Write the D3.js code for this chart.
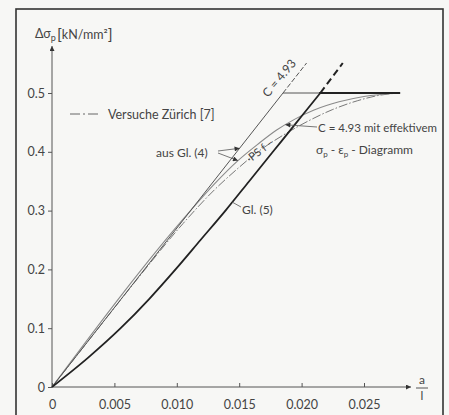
<!DOCTYPE html>
<html>
<head>
<meta charset="utf-8">
<script src="https://cdn.jsdelivr.net/npm/d3@7"></script>
<style>
  body { margin: 0; background: #f7f7f5; }
  svg text { font-family: Lato, "Open Sans", sans-serif; fill: #444; }
</style>
</head>
<body>
<div id="chart"></div>
<script>
  // tick values and labels
  var xTicks = [0, 0.005, 0.010, 0.015, 0.020, 0.025];
  var xTickLabels = ["0", "0.005", "0.010", "0.015", "0.020", "0.025"];
  var yTicks = [0, 0.1, 0.2, 0.3, 0.4, 0.5];
  var yTickLabels = ["0", "0.1", "0.2", "0.3", "0.4", "0.5"];

  // Gl. (5), thick curve, and its dashed continuation
  var gl5A = [0, 0.0029, 0.0055, 0.0078, 0.0099, 0.0119, 0.0139, 0.0158, 0.0177, 0.0196, 0.0215];
  var gl5S = [0, 0.05, 0.10, 0.15, 0.20, 0.25, 0.30, 0.35, 0.40, 0.45, 0.50];
  var gl5ExtA = [0.0215, 0.0233];
  var gl5ExtS = [0.50, 0.551];

  // C = 4.93, aus Gl. (4): straight line up to the plateau
  var c493A = [0, 0.01851];
  var c493S = [0, 0.50];
  var c493ExtA = [0.01851, 0.0204];
  var c493ExtS = [0.50, 0.551];

  // plateau at 0.5
  var plateauThinA = [0.01851, 0.0214];
  var plateauThickA = [0.0214, 0.0279];
  var plateauS = 0.5;

  // C = 4.93 mit effektivem sigma-eps diagram
  var effA = [0, 0.0111, 0.0130, 0.0149, 0.0165, 0.0180, 0.0195, 0.0210, 0.0230, 0.0250, 0.0278];
  var effS = [0, 0.300, 0.345, 0.385, 0.413, 0.437, 0.456, 0.471, 0.485, 0.494, 0.500];

  // Versuche Zuerich [7], dash-dot
  var testA = [0, 0.0036, 0.0070, 0.0105, 0.0130, 0.0148, 0.0165, 0.0185, 0.0205, 0.0225, 0.0245, 0.0262, 0.0278];
  var testS = [0, 0.097, 0.188, 0.278, 0.335, 0.370, 0.400, 0.428, 0.452, 0.472, 0.487, 0.496, 0.500];

  var width = 449, height = 415;

  var svg = d3.select("#chart").append("svg")
    .attr("width", width)
    .attr("height", height);

  var x = d3.scaleLinear().domain([0, 0.025]).range([52, 364]);
  var y = d3.scaleLinear().domain([0, 0.5]).range([387, 93]);

  function pts(a, s) {
    return a.map(function(d, i) { return [d, s[i]]; });
  }

  var line = d3.line()
    .x(function(d) { return x(d[0]); })
    .y(function(d) { return y(d[1]); });
  var curve = d3.line()
    .curve(d3.curveMonotoneX)
    .x(function(d) { return x(d[0]); })
    .y(function(d) { return y(d[1]); });

  // frame
  svg.append("rect")
    .attr("x", 16).attr("y", 9)
    .attr("width", 427).attr("height", 420)
    .attr("fill", "none")
    .attr("stroke", "#333")
    .attr("stroke-width", 1.6);

  // arrow marker
  svg.append("defs").append("marker")
    .attr("id", "arrow")
    .attr("viewBox", "0 0 10 10")
    .attr("refX", 10).attr("refY", 5)
    .attr("markerWidth", 10).attr("markerHeight", 5)
    .attr("markerUnits", "userSpaceOnUse")
    .attr("orient", "auto")
    .append("path")
    .attr("d", "M0,0L10,5L0,10Z")
    .attr("fill", "#333");

  // axes lines
  svg.append("line")
    .attr("x1", x(0)).attr("y1", y(0))
    .attr("x2", 411).attr("y2", y(0))
    .attr("stroke", "#555").attr("stroke-width", 1)
    .attr("marker-end", "url(#arrow)");
  svg.append("line")
    .attr("x1", x(0)).attr("y1", y(0))
    .attr("x2", x(0)).attr("y2", 46)
    .attr("stroke", "#555").attr("stroke-width", 1)
    .attr("marker-end", "url(#arrow)");

  var xAxis = d3.axisBottom(x)
    .tickValues(xTicks)
    .tickSize(-4)
    .tickPadding(11)
    .tickFormat(function(d, i) { return xTickLabels[i]; });
  var yAxis = d3.axisLeft(y)
    .tickValues(yTicks)
    .tickSize(4)
    .tickPadding(3)
    .tickFormat(function(d, i) { return yTickLabels[i]; });

  var gx = svg.append("g")
    .attr("transform", "translate(0," + y(0) + ")")
    .call(xAxis);
  var gy = svg.append("g")
    .attr("transform", "translate(" + x(0) + ",0)")
    .call(yAxis);

  [gx, gy].forEach(function(g) {
    g.select(".domain").remove();
    g.selectAll(".tick line").attr("stroke", "#555");
    g.selectAll(".tick text")
      .attr("font-size", 12.5)
      .attr("font-family", "Lato, sans-serif")
      .attr("fill", "#555");
  });
  gx.selectAll(".tick text").attr("dy", "0.9em");

  // curves
  svg.append("path")
    .attr("d", curve(pts(testA, testS)))
    .attr("fill", "none")
    .attr("stroke", "#777")
    .attr("stroke-width", 1)
    .attr("stroke-dasharray", "9,2,1.5,2");

  svg.append("path")
    .attr("d", curve(pts(effA, effS)))
    .attr("fill", "none")
    .attr("stroke", "#8a8a8a")
    .attr("stroke-width", 1.1);

  svg.append("path")
    .attr("d", line(pts(c493A, c493S)))
    .attr("fill", "none")
    .attr("stroke", "#555")
    .attr("stroke-width", 1);
  svg.append("path")
    .attr("d", line(pts(c493ExtA, c493ExtS)))
    .attr("fill", "none")
    .attr("stroke", "#555")
    .attr("stroke-width", 1)
    .attr("stroke-dasharray", "5,2");

  svg.append("path")
    .attr("d", line(plateauThinA.map(function(d) { return [d, plateauS]; })))
    .attr("fill", "none")
    .attr("stroke", "#555")
    .attr("stroke-width", 1);
  svg.append("path")
    .attr("d", line(plateauThickA.map(function(d) { return [d, plateauS]; })))
    .attr("fill", "none")
    .attr("stroke", "#222")
    .attr("stroke-width", 1.8);

  svg.append("path")
    .attr("d", curve(pts(gl5A, gl5S)))
    .attr("fill", "none")
    .attr("stroke", "#222")
    .attr("stroke-width", 1.8);
  svg.append("path")
    .attr("d", line(pts(gl5ExtA, gl5ExtS)))
    .attr("fill", "none")
    .attr("stroke", "#222")
    .attr("stroke-width", 2)
    .attr("stroke-dasharray", "7,4");

  // y axis title
  var yt = svg.append("text")
    .attr("x", 35).attr("y", 38)
    .attr("font-size", 12.5);
  yt.append("tspan").text("Δσ");
  yt.append("tspan").attr("font-size", 9).attr("dy", 3).text("p");
  yt.append("tspan").attr("font-size", 16).attr("dy", -1).attr("dx", 1).text("[");
  yt.append("tspan").attr("font-size", 12.5).attr("dy", -1).text("kN/mm²");
  yt.append("tspan").attr("font-size", 16).attr("dy", 1).text("]");

  // x axis title a / l
  svg.append("text").attr("x", 422).attr("y", 384)
    .attr("text-anchor", "middle").attr("font-size", 12).text("a");
  svg.append("line")
    .attr("x1", 416).attr("x2", 428).attr("y1", 388).attr("y2", 388)
    .attr("stroke", "#555");
  svg.append("text").attr("x", 422).attr("y", 400)
    .attr("text-anchor", "middle").attr("font-size", 12).text("l");

  // legend
  svg.append("line")
    .attr("x1", 70).attr("x2", 98).attr("y1", 114).attr("y2", 114)
    .attr("stroke", "#666")
    .attr("stroke-dasharray", "10,3,2,3");
  svg.append("text").attr("x", 108).attr("y", 118.5)
    .attr("font-size", 12.5).text("Versuche  Zürich [7]");

  // C = 4.93 along the straight line
  svg.append("text")
    .attr("transform", "translate(268,98) rotate(-50)")
    .attr("font-size", 12).text("C = 4.93");

  // C = 4.93 mit effektivem ...
  svg.append("text").attr("x", 318).attr("y", 132)
    .attr("font-size", 11.5).text("C = 4.93 mit effektivem");
  var t2 = svg.append("text").attr("x", 316).attr("y", 154).attr("font-size", 12);
  t2.append("tspan").text("σ");
  t2.append("tspan").attr("font-size", 8).attr("dy", 3).text("p");
  t2.append("tspan").attr("dy", -3).text(" - ε");
  t2.append("tspan").attr("font-size", 8).attr("dy", 3).text("p");
  t2.append("tspan").attr("dy", -3).text(" - Diagramm");
  svg.append("line")
    .attr("x1", 317).attr("y1", 127).attr("x2", x(0.0187)).attr("y2", y(0.446))
    .attr("stroke", "#555").attr("stroke-width", 0.8)
    .attr("marker-end", "url(#arrow)");

  // aus Gl. (4)
  svg.append("text").attr("x", 156).attr("y", 157)
    .attr("font-size", 12).text("aus Gl. (4)");
  svg.append("line")
    .attr("x1", 218).attr("y1", 151).attr("x2", x(0.01503)).attr("y2", y(0.406))
    .attr("stroke", "#555").attr("stroke-width", 0.8)
    .attr("marker-end", "url(#arrow)");
  svg.append("line")
    .attr("x1", 218).attr("y1", 153).attr("x2", x(0.0149)).attr("y2", y(0.385))
    .attr("stroke", "#555").attr("stroke-width", 0.8)
    .attr("marker-end", "url(#arrow)");

  // PS f along the test curve
  svg.append("text")
    .attr("transform", "translate(250,163) rotate(-38)")
    .attr("font-size", 11).text("·PS f –");

  // Gl. (5)
  svg.append("text").attr("x", 242).attr("y", 214)
    .attr("font-size", 12).text("Gl. (5)");
  svg.append("line")
    .attr("x1", 241).attr("y1", 207).attr("x2", 232).attr("y2", 202)
    .attr("stroke", "#555").attr("stroke-width", 0.8);
</script>
</body>
</html>
